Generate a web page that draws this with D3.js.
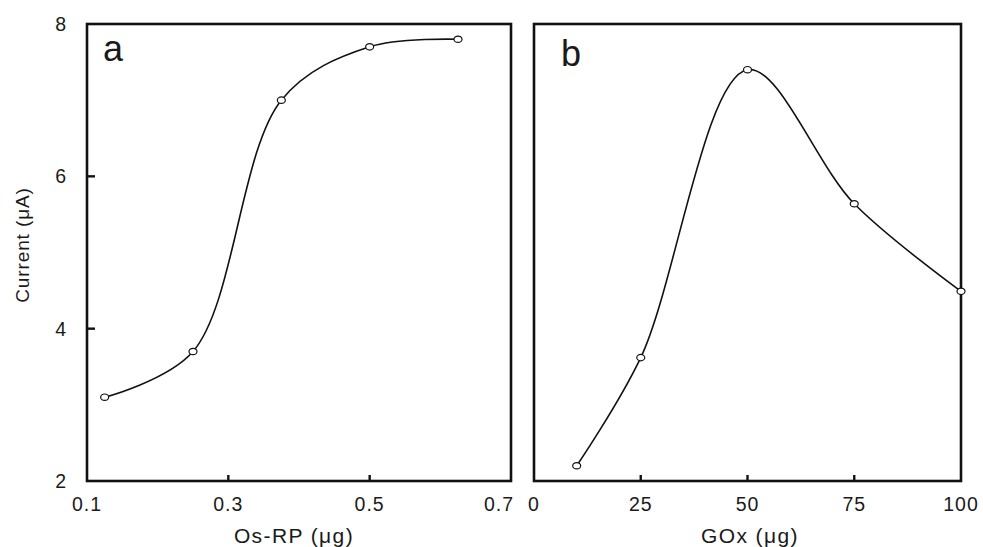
<!DOCTYPE html>
<html>
<head>
<meta charset="utf-8">
<script src="https://cdn.jsdelivr.net/npm/d3@7"></script>
<style>
  body { margin: 0; background: #fff; }
  text { font-family: "Liberation Sans", Arial, sans-serif; fill: #1a1a1a; }
</style>
</head>
<body>
<div class="svg-container"></div>
<script>
var width = 983;
var height = 547;

// panel a : Os-RP loading
var osrpAmount = [0.125, 0.25, 0.375, 0.5, 0.625];
var osrpCurrent = [3.1, 3.7, 7.0, 7.7, 7.8];
var osrpTicks = [0.1, 0.3, 0.5, 0.7];

// panel b : GOx loading
var goxAmount = [10, 25, 50, 75, 100];
var goxCurrent = [2.2, 3.62, 7.4, 5.64, 4.49];
var goxTicks = [0, 25, 50, 75, 100];

var currentTicks = [2, 4, 6, 8];

// "top" is taken by window.top, so a different name
var plotTop = 24, plotBottom = 481;

var svg = d3.select(".svg-container").append("svg")
  .attr("width", width).attr("height", height);

var y = d3.scaleLinear().domain([2, 8]).range([plotBottom, plotTop]);

var drawPanel = (opts) => {
  var x = d3.scaleLinear().domain(opts.domain).range([opts.left, opts.right]);
  var g = svg.append("g");
  var pts = opts.xs.map((d, i) => [d, opts.ys[i]]);

  // the frame
  g.append("rect")
    .attr("x", opts.left).attr("y", plotTop)
    .attr("width", opts.right - opts.left).attr("height", plotBottom - plotTop)
    .attr("fill", "none").attr("stroke", "#111").attr("stroke-width", 2.6);

  // inner x ticks (skip the ends, they sit on the corners)
  var inner = opts.ticks.slice(1, -1);
  g.selectAll(".xtick").data(inner).enter().append("line")
    .attr("x1", d => x(d)).attr("x2", d => x(d))
    .attr("y1", plotBottom).attr("y2", plotBottom - 6)
    .attr("stroke", "#111").attr("stroke-width", 2.4);

  // last label of panel a is pushed left so it clears the "0" of panel b
  g.selectAll(".xlab").data(opts.ticks).enter().append("text")
    .attr("x", (d, i) => x(d) + (i === opts.ticks.length - 1 ? opts.lastShift : 0))
    .attr("y", 511)
    .attr("text-anchor", "middle")
    .attr("font-size", 19.5).attr("letter-spacing", 1)
    .text(opts.fmt);

  g.append("text")
    .attr("x", opts.titleX).attr("y", 543)
    .attr("text-anchor", "middle")
    .attr("font-size", 21).attr("letter-spacing", 1.4)
    .text(opts.title);

  g.append("text")
    .attr("x", opts.labelX).attr("y", opts.labelY)
    .attr("font-size", 36)
    .text(opts.label);

  var line = d3.line()
    .x(d => x(d[0])).y(d => y(d[1]))
    .curve(d3.curveCatmullRom.alpha(0.5));

  g.append("path").datum(pts)
    .attr("d", line)
    .attr("fill", "none").attr("stroke", "#111").attr("stroke-width", 1.6);

  g.selectAll(".pt").data(pts).enter().append("ellipse")
    .attr("cx", d => x(d[0])).attr("cy", d => y(d[1]))
    .attr("rx", 4).attr("ry", 3.2)
    .attr("fill", "#fff").attr("stroke", "#111").attr("stroke-width", 1.2);

  return g;
};

var ga = drawPanel({
  domain: [0.1, 0.7], left: 87, right: 511,
  xs: osrpAmount, ys: osrpCurrent, ticks: osrpTicks, lastShift: -12,
  fmt: d3.format(".1f"), title: "Os-RP (\u03bcg)", titleX: 294,
  label: "a", labelX: 103, labelY: 61
});

drawPanel({
  domain: [0, 100], left: 534, right: 961,
  xs: goxAmount, ys: goxCurrent, ticks: goxTicks, lastShift: 0,
  fmt: d3.format("d"), title: "GOx (\u03bcg)", titleX: 750,
  label: "b", labelX: 561, labelY: 66
});

// y axis on the left panel only
ga.selectAll(".ytick").data(currentTicks.slice(1, -1)).enter().append("line")
  .attr("x1", 87).attr("x2", 95)
  .attr("y1", d => y(d)).attr("y2", d => y(d))
  .attr("stroke", "#111").attr("stroke-width", 2.4);

ga.selectAll(".ylab").data(currentTicks).enter().append("text")
  .attr("x", 66).attr("y", d => y(d) + 7)
  .attr("text-anchor", "end")
  .attr("font-size", 19.5)
  .text(d => d);

ga.append("text")
  .attr("transform", "translate(29,245) rotate(-90)")
  .attr("text-anchor", "middle")
  .attr("font-size", 19).attr("letter-spacing", 0.9)
  .text("Current (\u03bcA)");
</script>
</body>
</html>
